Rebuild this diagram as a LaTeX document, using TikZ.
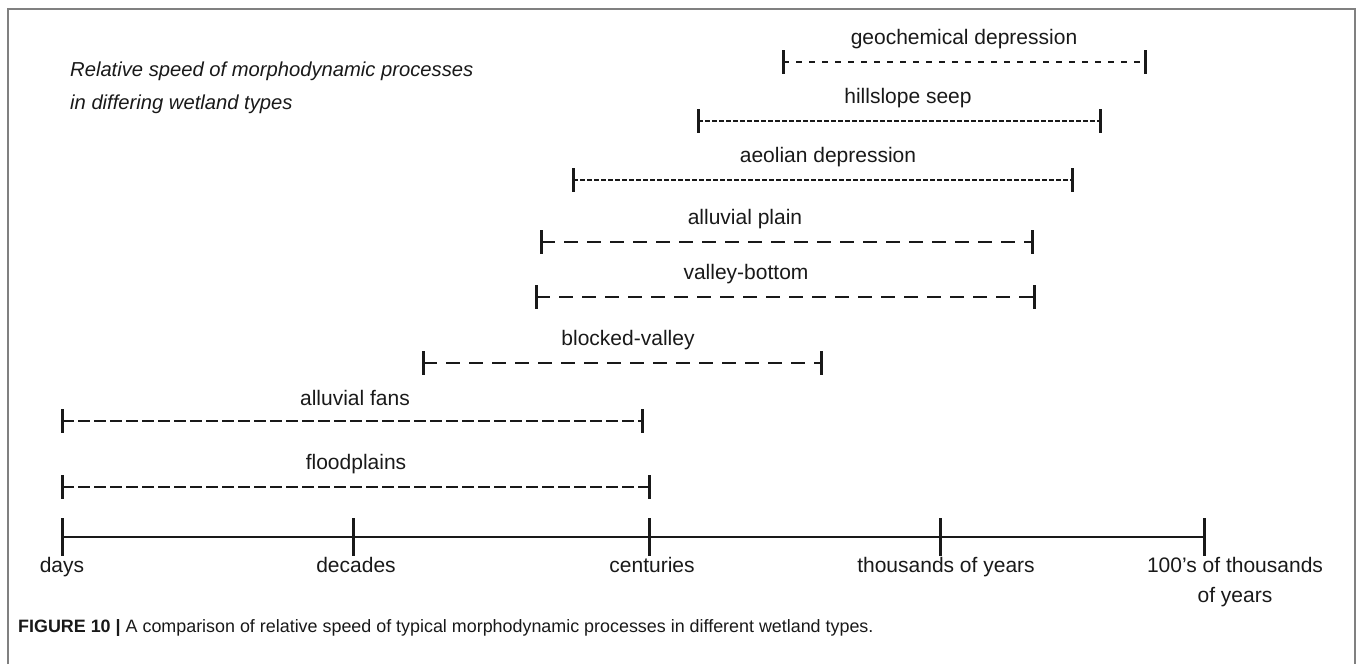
\documentclass[tikz,border=0pt]{standalone}
\usepackage{fontspec}
\setmainfont{Liberation Sans}
\begin{document}
\begin{tikzpicture}
        [x=1pt, y=-1pt,
        every node/.style={inner sep=0pt, text=black!90, font=\fontsize{21}{25}\selectfont},
        span/.style={line width=2.6pt, draw=black!90},
        endbar/.style={line width=3pt, draw=black!90},
        dashlong/.style={span, dash pattern=on 14pt off 9pt},
        dashmid/.style={span, dash pattern=on 12pt off 4pt},
        dashgap/.style={span, dash pattern=on 6pt off 7pt},
        dashfine/.style={span, dash pattern=on 5pt off 2pt},
        frame/.style={draw=black!50, line width=1.5pt},
        ]
        \useasboundingbox (0,0) rectangle (1360,664);
        \draw[frame] (8,664) -- (8,9) -- (1355,9) -- (1355,664);

        % title
        \node[anchor=west, align=left, font=\itshape\fontsize{20.2}{33}\selectfont] (title) at (70,88)
          {Relative speed of morphodynamic processes\\in differing wetland types};

        % ranges of the wetland types
        \foreach \name/\lab/\y/\xa/\xb/\xl/\dsh in {
            geo/geochemical depression/62/783/1145/964/dashgap,
            hill/hillslope seep/121/698/1100/908/dashfine,
            aeol/aeolian depression/180/573/1072/828/dashfine,
            plain/alluvial plain/242/541/1032/745/dashlong,
            vb/valley-bottom/297/536/1034/746/dashlong,
            blk/blocked-valley/363/423/821/628/dashlong,
            fans/alluvial fans/421/62/642/355/dashmid,
            flood/floodplains/487/62/649/356/dashmid} {
          \coordinate (\name-l) at (\xa,\y);
          \coordinate (\name-r) at (\xb,\y);
          \node (\name-lab) at (\xl,\y-23) {\lab};
          \draw[\dsh] (\name-l) -- (\name-r);
          \draw[endbar] ([yshift=12pt]\name-l) -- ([yshift=-12pt]\name-l);
          \draw[endbar] ([yshift=12pt]\name-r) -- ([yshift=-12pt]\name-r);
        }

        % time axis
        \foreach \t/\x/\xl/\lab in {1/62/62/days, 2/353/356/decades, 3/649/652/centuries,
            4/940/946/thousands of years, 5/1204/1235/100's of thousands\\of years} {
          \coordinate (t\t) at (\x,537);
          \draw[endbar] ([yshift=19pt]t\t) -- ([yshift=-19pt]t\t);
          \node[anchor=north, align=center, font=\fontsize{21}{30}\selectfont] (tl\t) at (\xl,557) {\lab};
        }
        \draw[endbar, line width=2.6pt] (t1) -- (t5);

        % caption
        \node[anchor=west, font=\fontsize{17.9}{20}\selectfont] (cap) at (18,628)
          {\textbf{FIGURE 10 |} A comparison of relative speed of typical morphodynamic processes in different wetland types.};
\end{tikzpicture}
\end{document}
